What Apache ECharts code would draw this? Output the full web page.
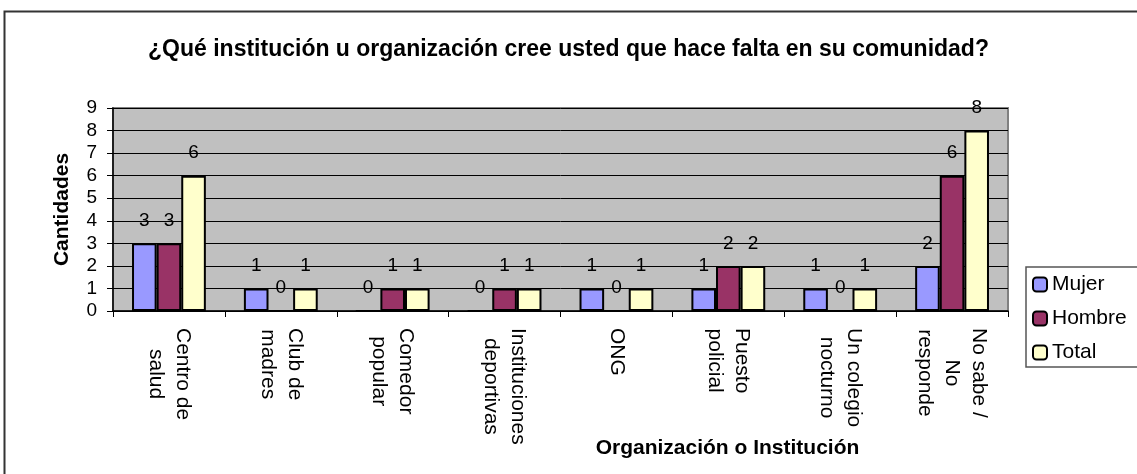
<!DOCTYPE html>
<html>
<head>
<meta charset="utf-8">
<script src="https://cdn.jsdelivr.net/npm/echarts@6/dist/echarts.min.js"></script>
<style>
  html, body { margin: 0; padding: 0; background: #fff; }
  #chart { width: 1137px; height: 474px; }
</style>
</head>
<body>
<div id="chart"></div>
<script>
// Survey answers: which institution is missing in the community
const categories = [
  'Centro de\nsalud',
  'Club de\nmadres',
  'Comedor\npopular',
  'Instituciones\ndeportivas',
  'ONG',
  'Puesto\npolicial',
  'Un colegio\nnocturno',
  'No sabe /\nNo\nresponde'
];
const mujer  = [3, 1, 0, 0, 1, 1, 1, 2];
const hombre = [3, 0, 1, 1, 0, 2, 0, 6];
const total  = [6, 1, 1, 1, 1, 2, 1, 8];

const FONT = '"Liberation Sans", Arial, sans-serif';

function barSeries(name, data, color) {
  return {
    name: name,
    type: 'bar',
    data: data,
    barGap: '0%',
    barCategoryGap: '34%',
    itemStyle: { color: color, borderColor: '#000', borderWidth: 2 },
    label: {
      show: true,
      position: 'top',
      distance: 13,
      color: '#000',
      fontFamily: FONT,
      fontSize: 19
    }
  };
}

const chart = echarts.init(document.getElementById('chart'), null, { renderer: 'canvas' });
chart.setOption({
  backgroundColor: '#fff',
  animation: false,
  title: {
    text: '¿Qué institución u organización cree usted que hace falta en su comunidad?',
    left: 'center',
    top: 38,
    padding: 0,
    textStyle: { fontFamily: FONT, fontSize: 23, fontWeight: 'bold', color: '#000' }
  },
  graphic: [{
    type: 'rect',
    left: 2, top: 9,
    shape: { width: 1300, height: 700 },
    style: { fill: 'none', stroke: '#333', lineWidth: 2 },
    silent: true,
    z: -1
  }],
  legend: {
    orient: 'vertical',
    left: 1026,
    top: 267,
    padding: [7, 12, 4, 6],
    itemWidth: 14,
    itemHeight: 14,
    itemGap: 13,
    borderColor: '#555',
    borderWidth: 1.5,
    textStyle: { fontFamily: FONT, fontSize: 21, color: '#000' },
    data: ['Mujer', 'Hombre', 'Total']
  },
  grid: {
    left: 113, right: 129, top: 108, bottom: 163,
    show: true,
    backgroundColor: '#C0C0C0',
    borderColor: '#808080',
    borderWidth: 2
  },
  xAxis: {
    type: 'category',
    data: categories,
    name: 'Organización o Institución',
    nameLocation: 'middle',
    nameGap: 127,
    nameMoveOverlap: false,
    nameTextStyle: {
      fontFamily: FONT, fontSize: 21, fontWeight: 'bold', color: '#000',
      padding: [0, 0, 0, 334]
    },
    axisLine: { lineStyle: { color: '#000', width: 1.5 } },
    axisTick: { show: true, length: 6, lineStyle: { color: '#000' } },
    axisLabel: {
      rotate: -90,
      margin: 17,
      interval: 0,
      color: '#000',
      formatter: function (v) {
        return v.split('\n').map(function (s) { return '{c|' + s + '}'; }).join('\n');
      },
      rich: {
        c: { align: 'center', fontFamily: FONT, fontSize: 21, lineHeight: 27, color: '#000' }
      }
    }
  },
  yAxis: {
    type: 'value',
    min: 0,
    max: 9,
    interval: 1,
    name: 'Cantidades',
    nameLocation: 'middle',
    nameGap: 40,
    nameMoveOverlap: false,
    nameTextStyle: { fontFamily: FONT, fontSize: 21, fontWeight: 'bold', color: '#000' },
    axisLine: { show: true, lineStyle: { color: '#000', width: 1.5 } },
    axisTick: { show: true, length: 6, lineStyle: { color: '#000' } },
    axisLabel: { margin: 16, fontFamily: FONT, fontSize: 19, color: '#000' },
    splitLine: { show: true, lineStyle: { color: '#000', width: 1 } }
  },
  series: [
    barSeries('Mujer', mujer, '#9999FF'),
    barSeries('Hombre', hombre, '#993366'),
    barSeries('Total', total, '#FFFFCC')
  ]
});
</script>
</body>
</html>
